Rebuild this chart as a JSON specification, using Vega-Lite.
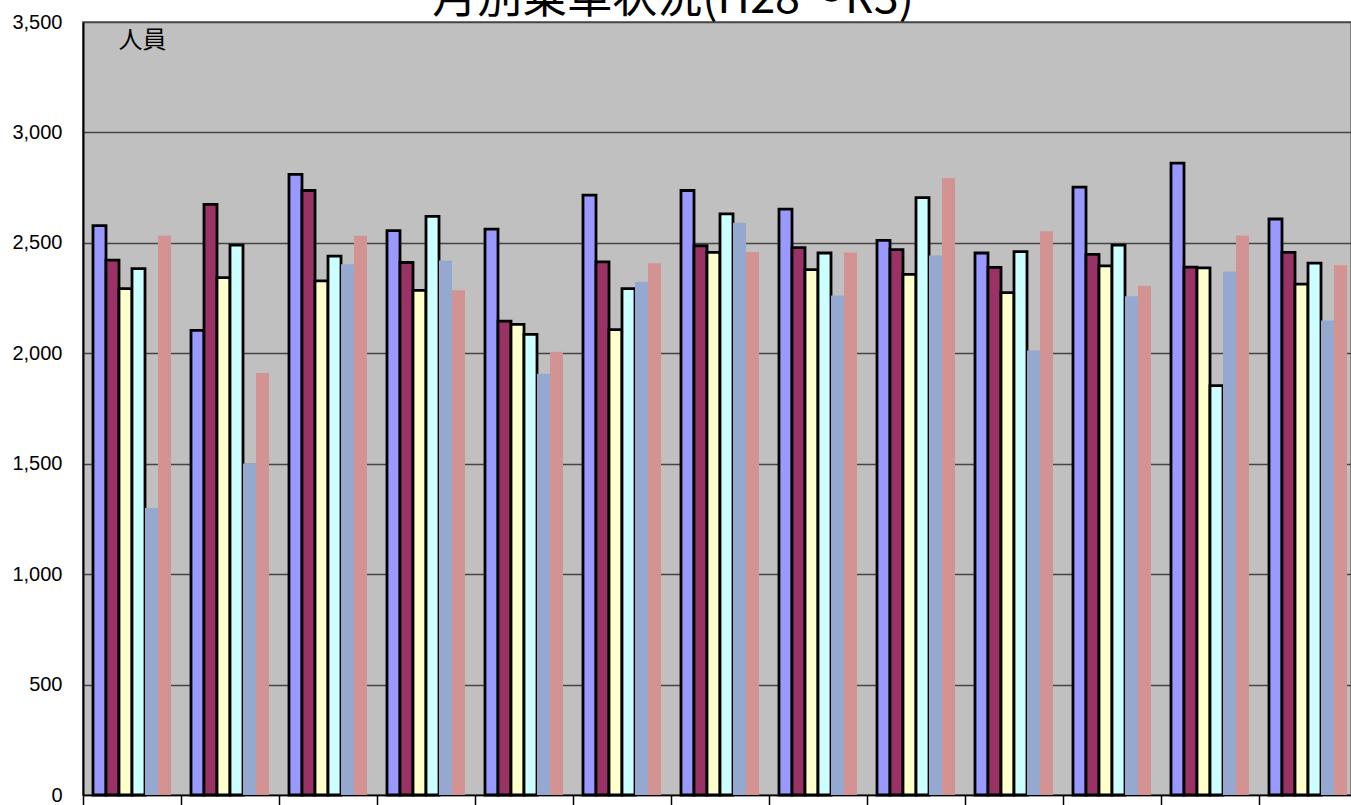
{
  "$schema": "https://vega.github.io/schema/vega-lite/v6.json",
  "autosize": {"type": "none"},
  "width": 1268,
  "height": 773,
  "padding": {"left": 83, "top": 22, "right": 0, "bottom": 10},
  "background": "white",
  "title": {
    "text": "月別乗車状況(H28～R3)",
    "font": "Noto Sans CJK JP",
    "fontSize": 45,
    "fontWeight": "normal",
    "color": "black",
    "anchor": "middle",
    "frame": "group",
    "baseline": "alphabetic",
    "offset": 0,
    "dx": -44,
    "dy": 46
  },
  "config": {
    "view": {"fill": "#C0C0C0", "stroke": "#808080", "strokeWidth": 2}
  },
  "data": {
    "values": [
      {"month": "4月", "year": "H28", "value": 2578},
      {"month": "4月", "year": "H29", "value": 2422},
      {"month": "4月", "year": "H30", "value": 2293},
      {"month": "4月", "year": "R1", "value": 2383},
      {"month": "4月", "year": "R2", "value": 1300},
      {"month": "4月", "year": "R3", "value": 2533},
      {"month": "5月", "year": "H28", "value": 2104},
      {"month": "5月", "year": "H29", "value": 2674},
      {"month": "5月", "year": "H30", "value": 2343},
      {"month": "5月", "year": "R1", "value": 2490},
      {"month": "5月", "year": "R2", "value": 1501},
      {"month": "5月", "year": "R3", "value": 1911},
      {"month": "6月", "year": "H28", "value": 2810},
      {"month": "6月", "year": "H29", "value": 2737},
      {"month": "6月", "year": "H30", "value": 2328},
      {"month": "6月", "year": "R1", "value": 2440},
      {"month": "6月", "year": "R2", "value": 2403},
      {"month": "6月", "year": "R3", "value": 2532},
      {"month": "7月", "year": "H28", "value": 2555},
      {"month": "7月", "year": "H29", "value": 2411},
      {"month": "7月", "year": "H30", "value": 2285},
      {"month": "7月", "year": "R1", "value": 2620},
      {"month": "7月", "year": "R2", "value": 2420},
      {"month": "7月", "year": "R3", "value": 2285},
      {"month": "8月", "year": "H28", "value": 2562},
      {"month": "8月", "year": "H29", "value": 2146},
      {"month": "8月", "year": "H30", "value": 2131},
      {"month": "8月", "year": "R1", "value": 2086},
      {"month": "8月", "year": "R2", "value": 1907},
      {"month": "8月", "year": "R3", "value": 2007},
      {"month": "9月", "year": "H28", "value": 2716},
      {"month": "9月", "year": "H29", "value": 2414},
      {"month": "9月", "year": "H30", "value": 2107},
      {"month": "9月", "year": "R1", "value": 2293},
      {"month": "9月", "year": "R2", "value": 2324},
      {"month": "9月", "year": "R3", "value": 2408},
      {"month": "10月", "year": "H28", "value": 2737},
      {"month": "10月", "year": "H29", "value": 2487},
      {"month": "10月", "year": "H30", "value": 2457},
      {"month": "10月", "year": "R1", "value": 2631},
      {"month": "10月", "year": "R2", "value": 2591},
      {"month": "10月", "year": "R3", "value": 2459},
      {"month": "11月", "year": "H28", "value": 2653},
      {"month": "11月", "year": "H29", "value": 2478},
      {"month": "11月", "year": "H30", "value": 2379},
      {"month": "11月", "year": "R1", "value": 2454},
      {"month": "11月", "year": "R2", "value": 2262},
      {"month": "11月", "year": "R3", "value": 2456},
      {"month": "12月", "year": "H28", "value": 2511},
      {"month": "12月", "year": "H29", "value": 2469},
      {"month": "12月", "year": "H30", "value": 2357},
      {"month": "12月", "year": "R1", "value": 2705},
      {"month": "12月", "year": "R2", "value": 2443},
      {"month": "12月", "year": "R3", "value": 2794},
      {"month": "1月", "year": "H28", "value": 2454},
      {"month": "1月", "year": "H29", "value": 2389},
      {"month": "1月", "year": "H30", "value": 2275},
      {"month": "1月", "year": "R1", "value": 2460},
      {"month": "1月", "year": "R2", "value": 2013},
      {"month": "1月", "year": "R3", "value": 2553},
      {"month": "2月", "year": "H28", "value": 2752},
      {"month": "2月", "year": "H29", "value": 2448},
      {"month": "2月", "year": "H30", "value": 2396},
      {"month": "2月", "year": "R1", "value": 2490},
      {"month": "2月", "year": "R2", "value": 2258},
      {"month": "2月", "year": "R3", "value": 2306},
      {"month": "3月", "year": "H28", "value": 2861},
      {"month": "3月", "year": "H29", "value": 2390},
      {"month": "3月", "year": "H30", "value": 2387},
      {"month": "3月", "year": "R1", "value": 1854},
      {"month": "3月", "year": "R2", "value": 2370},
      {"month": "3月", "year": "R3", "value": 2533},
      {"month": "平均", "year": "H28", "value": 2608},
      {"month": "平均", "year": "H29", "value": 2457},
      {"month": "平均", "year": "H30", "value": 2313},
      {"month": "平均", "year": "R1", "value": 2408},
      {"month": "平均", "year": "R2", "value": 2149},
      {"month": "平均", "year": "R3", "value": 2399}
    ]
  },
  "mark": {"type": "bar", "strokeWidth": 2.8, "strokeJoin": "miter"},
  "encoding": {
    "x": {
      "field": "month",
      "type": "nominal",
      "sort": null,
      "scale": {"range": [0, 1274], "paddingInner": 0, "paddingOuter": 0},
      "axis": {
        "title": null,
        "labels": false,
        "tickBand": "extent",
        "tickSize": 10,
        "tickColor": "black",
        "tickWidth": 1.5,
        "domainColor": "black",
        "domainWidth": 1.5,
        "grid": false
      }
    },
    "xOffset": {
      "field": "year",
      "type": "nominal",
      "sort": ["H28", "H29", "H30", "R1", "R2", "R3"],
      "scale": {"paddingInner": 0, "paddingOuter": 0.769}
    },
    "y": {
      "field": "value",
      "type": "quantitative",
      "scale": {"domain": [0, 3500], "nice": false},
      "axis": {
        "values": [0, 500, 1000, 1500, 2000, 2500, 3000, 3500],
        "format": ",.0f",
        "ticks": false,
        "labelFont": "Liberation Sans",
        "labelFontSize": 20,
        "labelColor": "black",
        "labelPadding": 21,
        "domainColor": "black",
        "domainWidth": 2,
        "gridColor": "#454545",
        "gridWidth": 1.5,
        "gridOpacity": 1,
        "title": "人員",
        "titleAngle": 0,
        "titleX": 35,
        "titleY": 18,
        "titleAlign": "left",
        "titleBaseline": "middle",
        "titleFont": "Noto Sans CJK JP",
        "titleFontSize": 24,
        "titleFontWeight": "normal",
        "titleColor": "black"
      }
    },
    "fill": {
      "field": "year",
      "type": "nominal",
      "sort": ["H28", "H29", "H30", "R1", "R2", "R3"],
      "scale": {"range": ["#9999FF", "#993366", "#FFFFCC", "#CCFFFF", "#95A9D0", "#D39393"]},
      "legend": null
    },
    "stroke": {
      "field": "year",
      "type": "nominal",
      "sort": ["H28", "H29", "H30", "R1", "R2", "R3"],
      "scale": {"range": ["black", "black", "black", "black", "transparent", "transparent"]},
      "legend": null
    }
  }
}
